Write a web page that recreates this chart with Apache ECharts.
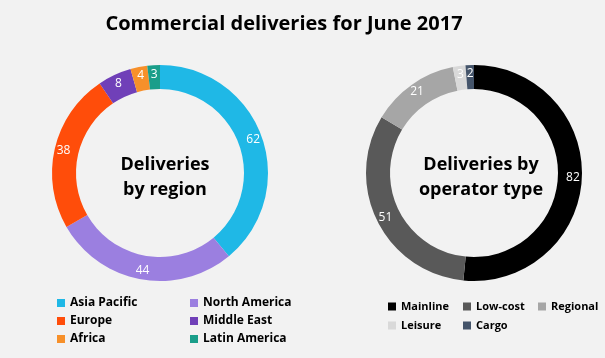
<!DOCTYPE html>
<html><head><meta charset="utf-8">
<script src="https://cdn.jsdelivr.net/npm/echarts@6/dist/echarts.min.js"></script>
<style>html,body{margin:0;padding:0;background:#f2f2f2}#c{width:605px;height:358px}</style>
</head><body><div id="c"></div>
<script>
var regionNames = ['Asia Pacific','North America','Europe','Middle East','Africa','Latin America'];
var regionValues = [62,44,38,8,4,3];
var regionColors = ['#1fb8e6','#9b7fe0','#ff4d0a','#7040b8','#f7902a','#1a9e8a'];
var opNames = ['Mainline','Low-cost','Regional','Leisure','Cargo'];
var opValues = [82,51,21,3,2];
var opColors = ['#000000','#595959','#a6a6a6','#d9d9d9','#44546a'];
var FONT = 'Open Sans';

function mk(names, vals){ return names.map(function(n,i){return {name:n,value:vals[i]};}); }
function leg(data,left,top,gap,size){ return {data:data,orient:'vertical',left:left,top:top,itemWidth:8,itemHeight:8,itemGap:gap,icon:'rect',
  textStyle:{fontFamily:FONT,fontSize:size,fontWeight:'bold',color:'#000'},padding:0,selectedMode:false}; }

var chart = echarts.init(document.getElementById('c'));
chart.setOption({
  backgroundColor:'#f2f2f2',
  title:[
    {text:'Commercial deliveries for June 2017',left:279,top:9,textAlign:'center',textStyle:{fontFamily:FONT,fontSize:20,fontWeight:'bold',color:'#000'}},
    {text:'Deliveries\nby region',left:160,top:147,textAlign:'center',textStyle:{fontFamily:FONT,fontSize:18,fontWeight:'bold',color:'#000',lineHeight:25}},
    {text:'Deliveries by\noperator type',left:476,top:147,textAlign:'center',textStyle:{fontFamily:FONT,fontSize:18,fontWeight:'bold',color:'#000',lineHeight:25}}
  ],
  legend:[
    leg(['Asia Pacific','Europe','Africa'],57,297,6,12),
    leg(['North America','Middle East','Latin America'],190,297,6,12),
    leg(['Mainline','Leisure'],388,301,8,11),
    leg(['Low-cost','Cargo'],463,301,8,11),
    leg(['Regional'],538,301,8,11)
  ],
  series:[
    {type:'pie',center:[160,173],radius:[84,108],startAngle:90,clockwise:true,color:regionColors,
     data:mk(regionNames,regionValues),avoidLabelOverlap:false,silent:true,
     label:{position:'inside',formatter:'{c}',color:'#fff',fontFamily:FONT,fontSize:12},
     labelLine:{show:false},itemStyle:{borderWidth:0}},
    {type:'pie',center:[474,173],radius:[84,108],startAngle:90,clockwise:true,color:opColors,
     data:mk(opNames,opValues),avoidLabelOverlap:false,silent:true,
     label:{position:'inside',formatter:'{c}',color:'#fff',fontFamily:FONT,fontSize:12},
     labelLine:{show:false},itemStyle:{borderWidth:0}}
  ]
});
</script></body></html>
